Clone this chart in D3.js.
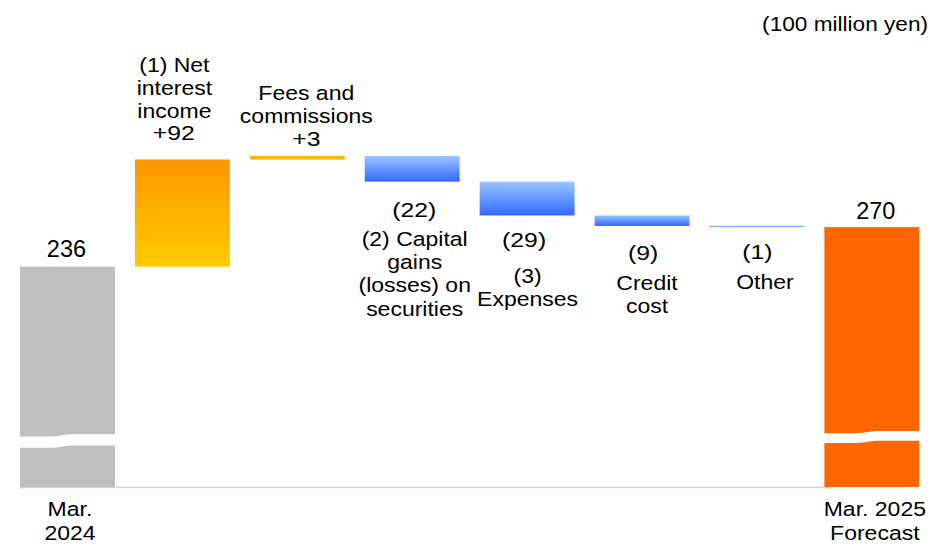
<!DOCTYPE html>
<html>
<head>
<meta charset="utf-8">
<script src="https://cdn.jsdelivr.net/npm/d3@7"></script>
<style>
  html, body { margin: 0; padding: 0; background: #fff; }
  svg { display: block; }
  text { font-family: "Liberation Sans", Arial, sans-serif; fill: #000; }
</style>
</head>
<body>
<svg id="chart" width="928" height="544"></svg>
<script>
// Ordinary profit bridge, Mar. 2024 -> Mar. 2025 forecast (100 million yen)
const categories = ["Mar. 2024", "(1) Net interest income", "Fees and commissions",
  "(2) Capital gains (losses) on securities", "(3) Expenses", "Credit cost", "Other",
  "Mar. 2025 Forecast"];
const kinds = ["total", "delta", "delta", "delta", "delta", "delta", "delta", "total"];
const values = [236, 92, 3, -22, -29, -9, -1, 270];
const valueLabels = ["236", "+92", "+3", "(22)", "(29)", "(9)", "(1)", "270"];
const nameLines = [
  ["Mar.", "2024"],
  ["(1) Net", "interest", "income"],
  ["Fees and", "commissions"],
  ["(2) Capital", "gains", "(losses) on", "securities"],
  ["(3)", "Expenses"],
  ["Credit", "cost"],
  ["Other"],
  ["Mar. 2025", "Forecast"]
];
const unitLabel = "(100 million yen)";
// lowest value shown above the broken axis
const axisFloor = 47;

const svg = d3.select("#chart");

const x = d3.scaleBand()
  .domain(categories)
  .range([20, 919.3])
  .paddingInner(0.174)
  .paddingOuter(0);

const y = d3.scaleLinear()
  .domain([axisFloor, 331])
  .range([487, 156]);

// running totals for the floating bars
let running = 0;
const bars = categories.map((c, i) => {
  let lo, hi;
  if (kinds[i] === "total") {
    lo = axisFloor; hi = values[i]; running = values[i];
  } else {
    const start = running, end = running + values[i];
    lo = Math.min(start, end); hi = Math.max(start, end); running = end;
  }
  return { cat: c, i, lo, hi, v: values[i], kind: kinds[i] };
});

// gradients
const defs = svg.append("defs");
function vGrad(id, top, bottom) {
  const g = defs.append("linearGradient").attr("id", id)
    .attr("x1", 0).attr("y1", 0).attr("x2", 0).attr("y2", 1);
  g.append("stop").attr("offset", "0%").attr("stop-color", top);
  g.append("stop").attr("offset", "100%").attr("stop-color", bottom);
}
vGrad("gradUp", "#ff9600", "#ffcc00");
vGrad("gradDown", "#99c8ff", "#3366ff");

function fillFor(d) {
  if (d.kind === "total") return d.i === 0 ? "#bfbfbf" : "#ff6600";
  if (d.v > 0) return d.v >= 10 ? "url(#gradUp)" : "#ffb400";
  if (d.v <= -2) return "url(#gradDown)";
  return "#7fa6ff";
}

// baseline
svg.append("line")
  .attr("x1", x(categories[0])).attr("x2", x(categories[7]) + 6)
  .attr("y1", y(axisFloor) + 0.5).attr("y2", y(axisFloor) + 0.5)
  .attr("stroke", "#d4d4d4").attr("stroke-width", 1.5);

svg.append("g").selectAll("rect")
  .data(bars)
  .join("rect")
  .attr("x", d => x(d.cat))
  .attr("width", x.bandwidth())
  .attr("y", d => y(d.hi))
  .attr("height", d => Math.max(1.2, y(d.lo) - y(d.hi)))
  .attr("fill", fillFor);

// axis break: a white wavy band across the two total bars
const breaks = [
  { cat: categories[0], top: 436.6, gap: 11.2, rise: 2.4, at: [0.30, 0.58] },
  { cat: categories[7], top: 433.2, gap: 9.8, rise: 2.2, at: [0.33, 0.58] }
];
breaks.forEach(b => {
  const x0 = x(b.cat) - 1, w = x.bandwidth() + 2, x1 = x0 + w;
  const a = x0 + w * b.at[0], c = x0 + w * b.at[1], m = (a + c) / 2;
  const t = b.top, r = b.rise, g = b.gap;
  const d = [
    `M${x0},${t}`, `L${a},${t}`,
    `C${m},${t} ${m},${t - r} ${c},${t - r}`,
    `L${x1},${t - r}`, `L${x1},${t - r + g}`,
    `L${c},${t - r + g}`,
    `C${m},${t - r + g} ${m},${t + g} ${a},${t + g}`,
    `L${x0},${t + g}`, "Z"
  ].join("");
  svg.append("path").attr("d", d).attr("fill", "#fff");
});

// text helper with slight horizontal widening of the glyphs
function label(txt, cx, by, size, sx) {
  svg.append("text")
    .attr("transform", `translate(${cx},${by}) scale(${sx},1)`)
    .attr("text-anchor", "middle")
    .style("font-size", size + "px")
    .text(txt);
}

const LBL = 19.5, SX = 1.18, LH = 23.2;
const cx = i => x(categories[i]) + x.bandwidth() / 2;

// unit
svg.append("text")
  .attr("transform", "translate(928,31) scale(1.16,1)")
  .attr("text-anchor", "end")
  .style("font-size", "19.5px")
  .text(unitLabel);

// Mar. 2024
label(valueLabels[0], cx(0) - 1, 256.5, 23.5, 1.0);
nameLines[0].forEach((t, k) => label(t, cx(0) + 2.5, 515.5 + k * 24, LBL, SX));

// (1) Net interest income
nameLines[1].forEach((t, k) => label(t, cx(1) - 8, 71.5 + k * LH, LBL, SX));
label(valueLabels[1], cx(1) - 8.5, 140, 21, SX);

// Fees and commissions
nameLines[2].forEach((t, k) => label(t, cx(2) + 9, 100 + k * LH, LBL, SX));
label(valueLabels[2], cx(2) + 9, 145.5, 21, SX);

// (2) Capital gains (losses) on securities
label(valueLabels[3], cx(3) + 2, 217, 21, SX);
nameLines[3].forEach((t, k) => label(t, cx(3) + 2.5, 246 + k * LH, LBL, SX));

// (3) Expenses
label(valueLabels[4], cx(4) - 3, 247, 21, SX);
nameLines[4].forEach((t, k) => label(t, cx(4) + 0.5, 283 + k * LH, LBL, SX));

// Credit cost
label(valueLabels[5], cx(5) + 1, 259.5, 21, SX);
nameLines[5].forEach((t, k) => label(t, cx(5) + 5, 290 + k * LH, LBL, SX));

// Other
label(valueLabels[6], cx(6) + 0.5, 258.5, 21, SX);
nameLines[6].forEach((t, k) => label(t, cx(6) + 8, 289, LBL, SX));

// Mar. 2025 Forecast
label(valueLabels[7], cx(7) + 4, 218.5, 23.5, 1.0);
nameLines[7].forEach((t, k) => label(t, cx(7) + 3, 515.5 + k * 24, LBL, SX));
</script>
</body>
</html>
